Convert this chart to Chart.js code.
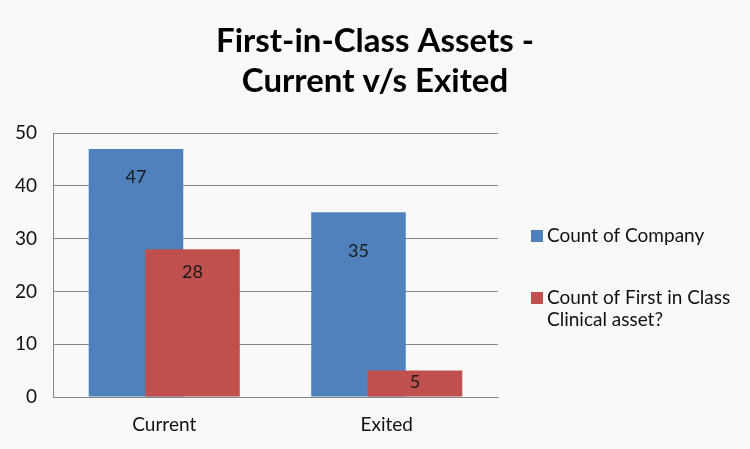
<!DOCTYPE html>
<html lang="en">
<head>
    <meta charset="UTF-8">
    <title>First-in-Class Assets - Current v/s Exited</title>
    <style>
        body, html {
            margin: 0;
            padding: 0;
            background-color: #f9f9f9;
        }
        .chart-box {
            width: 750px;
            height: 449px;
        }
    </style>
</head>
<body>
    <div class="chart-box">
        <canvas id="chart1"></canvas>
    </div>

    <script src="https://cdn.jsdelivr.net/npm/chart.js"></script>
    <script>
        // data
        var categories = ['Current', 'Exited'];
        var countCompany = [47, 35];
        var countFirstInClass = [28, 5];
        var yTicks = [0, 10, 20, 30, 40, 50];

        var FONT = 'Lato, "Open Sans", sans-serif';

        // nudges bars sideways so they overlap like the Excel chart
        var overlapBars = {
            id: 'overlapBars',
            afterDatasetsUpdate: function(chart) {
                var xs = chart.scales.x;
                var catW = xs.width / categories.length;
                chart.data.datasets.forEach(function(ds, i) {
                    var meta = chart.getDatasetMeta(i);
                    var dir = i === 0 ? -1 : 1;
                    meta.data.forEach(function(el) {
                        el.x = el.x + dir * 0.127 * catW;
                    });
                });
            }
        };

        // value labels inside the bars
        var valueLabels = {
            id: 'valueLabels',
            afterDatasetsDraw: function(chart) {
                var ctx = chart.ctx;
                var drops = [[28, 39], [23, 12]];
                ctx.save();
                ctx.font = '18px ' + FONT;
                ctx.fillStyle = '#1a1a1a';
                ctx.textAlign = 'center';
                ctx.textBaseline = 'middle';
                chart.data.datasets.forEach(function(ds, i) {
                    chart.getDatasetMeta(i).data.forEach(function(el, j) {
                        ctx.fillText(ds.data[j], el.x, el.y + drops[i][j]);
                    });
                });
                ctx.restore();
            }
        };

        // legend on the right, second entry wraps to two lines
        var sideLegend = {
            id: 'sideLegend',
            afterDraw: function(chart) {
                var ctx = chart.ctx;
                var rows = [
                    { y: 236, lines: ['Count of Company'] },
                    { y: 298, lines: ['Count of First in Class', 'Clinical asset?'] }
                ];
                ctx.save();
                ctx.font = '19px ' + FONT;
                ctx.textBaseline = 'middle';
                ctx.textAlign = 'left';
                chart.data.datasets.forEach(function(ds, i) {
                    var r = rows[i];
                    ctx.fillStyle = ds.backgroundColor;
                    ctx.fillRect(531, r.y - 6, 12, 12);
                    ctx.fillStyle = '#111';
                    r.lines.forEach(function(t, k) {
                        ctx.fillText(t, 547, r.y + k * 22);
                    });
                });
                ctx.restore();
            }
        };

        window.onload = function() {
            var ctx1 = document.getElementById('chart1').getContext('2d');
            var chart1 = new Chart(ctx1, {
                type: 'bar',
                data: {
                    labels: categories,
                    datasets: [{
                        label: 'Count of Company',
                        data: countCompany,
                        backgroundColor: '#4f81bd',
                        order: 1
                    }, {
                        label: 'Count of First in Class Clinical asset?',
                        data: countFirstInClass,
                        backgroundColor: '#c0504d',
                        order: 0
                    }]
                },
                plugins: [overlapBars, valueLabels, sideLegend],
                options: {
                    responsive: true,
                    maintainAspectRatio: false,
                    animation: false,
                    layout: {
                        padding: 0
                    },
                    datasets: {
                        bar: {
                            grouped: false,
                            barPercentage: 0.425,
                            categoryPercentage: 1
                        }
                    },
                    plugins: {
                        legend: { display: false },
                        tooltip: { enabled: false },
                        title: {
                            display: true,
                            text: ['First-in-Class Assets -', 'Current v/s Exited'],
                            color: '#000',
                            font: { family: FONT, size: 33, weight: 'bold', lineHeight: 1.2 },
                            padding: { top: 22, bottom: 32 }
                        }
                    },
                    scales: {
                        x: {
                            grid: { display: false },
                            border: { display: true, color: '#868686', width: 1 },
                            ticks: {
                                color: '#111',
                                font: { family: FONT, size: 19 },
                                padding: 8
                            },
                            afterFit: function(scale) { scale.height = 52; }
                        },
                        y: {
                            min: 0,
                            max: 50,
                            afterBuildTicks: function(scale) {
                                scale.ticks = yTicks.map(function(v) { return { value: v }; });
                            },
                            grid: { color: '#868686', lineWidth: 1, drawTicks: false },
                            border: { display: true, color: '#868686', width: 1 },
                            ticks: {
                                color: '#111',
                                font: { family: FONT, size: 19 },
                                padding: 16
                            },
                            afterFit: function(scale) { scale.width = 53; }
                        },
                        // empty right axis only reserves room for the legend
                        side: {
                            position: 'right',
                            display: true,
                            grid: { display: false },
                            border: { display: false },
                            ticks: { display: false },
                            afterFit: function(scale) { scale.width = 252; }
                        }
                    }
                }
            });
        };
    </script>
</body>
</html>
